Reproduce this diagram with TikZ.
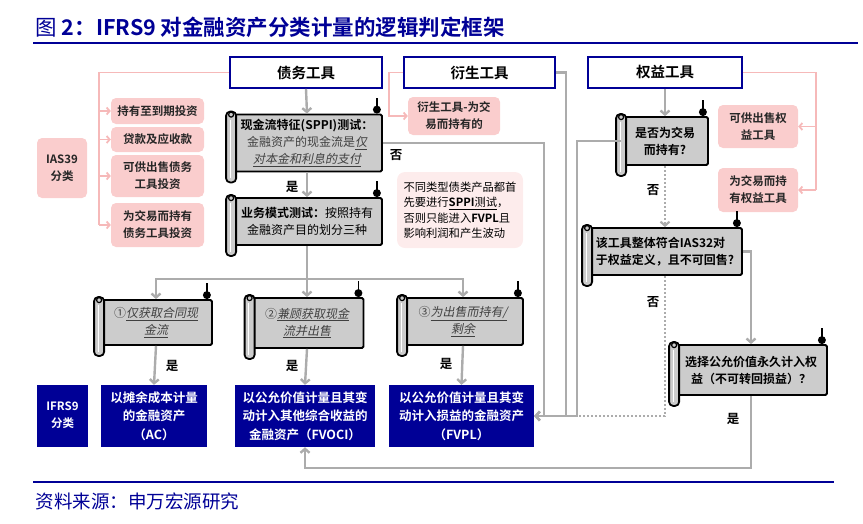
\documentclass[tikz,border=0pt]{standalone}
\usepackage{fontspec}
\setmainfont{Noto Sans CJK SC}[BoldFont={Noto Sans CJK SC Bold},AutoFakeSlant=0.2]
\usetikzlibrary{arrows.meta}

\definecolor{navy}{RGB}{0,0,150}
\definecolor{pinkfill}{RGB}{250,205,205}
\definecolor{pinkline}{RGB}{246,185,185}
\definecolor{notefill}{RGB}{253,236,236}
\definecolor{flowgray}{RGB}{172,172,172}
\definecolor{scrollgray}{RGB}{204,204,204}

\tikzset{
	topbox/.style={draw=navy, line width=1.8pt, fill=white, minimum height=31pt, font=\fontsize{14.5}{16}\selectfont\bfseries},
	pinkbox/.style={fill=pinkfill, rounded corners=5pt, align=center, text=black!85, font=\fontsize{11.5}{17}\selectfont\bfseries},
	resbox/.style={fill=navy, text=white, align=center, minimum height=62pt, font=\fontsize{12.5}{18.5}\selectfont\bfseries},
	scrollbox/.style={draw=black, line width=1.8pt, fill=scrollgray, rounded corners=1.5pt, align=center, inner sep=1pt, font=\fontsize{12}{17}\selectfont},
	flow/.style={draw=flowgray, line width=2.4pt, -{Straight Barb[length=4pt,width=9pt]}},
	dotflow/.style={draw=flowgray, line width=2.2pt, dash pattern=on 2pt off 2pt},
	pinkflow/.style={draw=pinkline, line width=1.8pt, -{Straight Barb[length=3pt,width=7pt]}},
	answer/.style={font=\fontsize{12.5}{13}\selectfont\bfseries}
}

% rolled left edge and knob of a scroll node
\newcommand{\scrollcurl}[1]{
	\draw[line width=1.8pt, fill=scrollgray, rounded corners=4pt] ([xshift=-5pt,yshift=2pt]#1.north west) rectangle ([xshift=5pt,yshift=-10pt]#1.south west);
	\draw[white, line width=1pt] ([xshift=-1pt,yshift=-6pt]#1.north west) -- ([xshift=-1pt,yshift=-6pt]#1.south west);
	\draw[line width=1.2pt, fill=scrollgray] ([yshift=-1pt]#1.north west) circle (2.5pt);
	\draw[line width=1.8pt] ([xshift=-6pt,yshift=4pt]#1.north east) -- ++(0,-12);
	\fill ([xshift=-6pt,yshift=4pt]#1.north east) circle (4pt);
}

\begin{document}
\begin{tikzpicture}[x=1pt, y=-1pt]
	\useasboundingbox (0,0) rectangle (863,523);
	
	%title and rules
	\node[anchor=west, text=navy, font=\fontsize{21.5}{23}\selectfont] (title) at (32,27) {图 \textbf{2：IFRS9 对金融资产分类计量的逻辑判定框架}};
	\draw[navy, line width=2pt] (33,43) -- (858,43);
	\draw[navy, line width=2pt] (33,482) -- (834,482);
	\node[anchor=west, text=navy, font=\fontsize{18.5}{19}\selectfont] (source) at (32,501) {资料来源：申万宏源研究};
	
	%instrument types
	\node[topbox, minimum width=152pt] (debt) at (306,72.5) {债务工具};
	\node[topbox, minimum width=151pt] (deriv) at (479.5,72.5) {衍生工具};
	\node[topbox, minimum width=154pt] (equity) at (665,72.5) {权益工具};
	
	%IAS39 classes
	\node[pinkbox, minimum width=50pt, minimum height=60pt] (ias39) at (62,168) {IAS39\\分类};
	\node[pinkbox, minimum width=93pt, minimum height=26pt] (htm) at (157.5,111) {持有至到期投资};
	\node[pinkbox, minimum width=93pt, minimum height=25pt] (loan) at (157.5,139.5) {贷款及应收款};
	\node[pinkbox, minimum width=93pt, minimum height=42pt] (afs) at (157.5,176) {可供出售债务\\工具投资};
	\node[pinkbox, minimum width=93pt, minimum height=44pt] (trad) at (157.5,225) {为交易而持有\\债务工具投资};
	\node[pinkbox, minimum width=92pt, minimum height=38pt] (derivtr) at (454,116) {衍生工具-为交\\易而持有的};
	\node[pinkbox, minimum width=80pt, minimum height=43pt] (afseq) at (758,126.5) {可供出售权\\益工具};
	\node[pinkbox, minimum width=80pt, minimum height=44pt] (treq) at (758,190) {为交易而持\\有权益工具};
	
	%note
	\node[fill=notefill, rounded corners=8pt, minimum width=126pt, minimum height=76pt, align=left, font=\fontsize{11.3}{15.5}\selectfont] (note) at (460,210) {不同类型债类产品都首\\先要进行\underline{\textbf{SPPI}测试}，\\否则只能进入\textbf{FVPL}且\\影响利润和产生波动};
	
	%tests
	\node[scrollbox, minimum width=150pt, minimum height=57pt] (sppi) at (307,143) {\textbf{现金流特征(SPPI)测试：}\\\textcolor{black!75}{金融资产的现金流是\underline{\textit{仅}}}\\\textcolor{black!75}{\underline{\textit{对本金和利息的支付}}}};
	\node[scrollbox, minimum width=150pt, minimum height=47pt] (biz) at (307,221.5) {\textbf{业务模式测试：}按照持有\\金融资产目的划分三种};
	\node[scrollbox, minimum width=112pt, minimum height=45pt, text=black!75] (opt1) at (156,322.5) {①\underline{\textit{仅获取合同现}}\\\underline{\textit{金流}}};
	\node[scrollbox, minimum width=113pt, minimum height=50pt, text=black!75] (opt2) at (307,323) {②\underline{\textit{兼顾获取现金}}\\\underline{\textit{流并出售}}};
	\node[scrollbox, minimum width=120pt, minimum height=47pt, text=black!75] (opt3) at (463,321.5) {③\underline{\textit{为出售而持有/}}\\\underline{\textit{剩余}}};
	\node[scrollbox, minimum width=86pt, minimum height=48pt, font=\fontsize{12}{17}\selectfont\bfseries] (trade) at (665,141) {是否为交易\\而持有?};
	\node[scrollbox, minimum width=154pt, minimum height=47pt, align=left, font=\fontsize{12}{17}\selectfont\bfseries] (ias32) at (665,251.5) {该工具整体符合IAS32对\\于权益定义，且不可回售?};
	\node[scrollbox, minimum width=152pt, minimum height=50pt, font=\fontsize{12}{17}\selectfont\bfseries] (fvchoice) at (751,370) {选择公允价值永久计入权\\益（不可转回损益）？};
	\foreach \s in {sppi, biz, opt1, opt2, opt3, trade, ias32, fvchoice}{
		\scrollcurl{\s}
	}
	
	%IFRS9 classes
	\node[resbox, minimum width=51pt, font=\fontsize{11.5}{17}\selectfont\bfseries] (ifrs) at (62.5,415.5) {IFRS9\\分类};
	\node[resbox, minimum width=106pt] (ac) at (154,416) {以摊余成本计量\\的金融资产\\（AC）};
	\node[resbox, minimum width=140pt] (fvoci) at (305,416) {以公允价值计量且其变\\动计入其他综合收益的\\金融资产（FVOCI）};
	\node[resbox, minimum width=145pt] (fvpl) at (461.5,416) {以公允价值计量且其变\\动计入损益的金融资产\\（FVPL）};
	
	%pink links
	\coordinate (pkl) at ([xshift=-130pt]debt.west);
	\draw[pinkline, line width=1.8pt] (debt.west) -- (pkl) -- (pkl |- trad.west);
	\foreach \n in {htm, loan, afs, trad}{
		\draw[pinkflow] (pkl |- \n.west) -- (\n.west);
	}
	\draw[pinkflow] (deriv.west) -- ++(-14,0) |- (derivtr.west);
	\coordinate (pkr) at ([xshift=73pt]equity.east);
	\draw[pinkline, line width=1.8pt] (equity.east) -- (pkr) -- (pkr |- treq.east);
	\foreach \n in {afseq, treq}{
		\draw[pinkflow] (pkr |- \n.east) -- (\n.east);
	}
	
	%debt flow
	\draw[flow] (debt.south) -- (sppi.north);
	\draw[flow] (sppi.south) -- (biz.north);
	\coordinate (fork) at ([yshift=-33pt]biz.south);
	\draw[flow] (biz.south) -- (opt2.north);
	\draw[flow] (fork) -| (opt1.north);
	\draw[flow] (fork) -| (opt3.north);
	\draw[flow] (opt1.south) -- (ac.north);
	\draw[flow] (opt2.south) -- (fvoci.north);
	\draw[flow] (opt3.south) -- (fvpl.north);
	
	%paths into FVPL
	\draw[flow] (sppi.east) -| ([xshift=10pt]fvpl.east) -- (fvpl.east);
	\draw[flow] (deriv.east) -| ([xshift=32pt]fvpl.east) -- (fvpl.east);
	\draw[flow] (trade.west) -| ([xshift=43pt]fvpl.east) -- (fvpl.east);
	
	%equity flow
	\draw[flow] (equity.south) -- (trade.north);
	\draw[dotflow, -{Straight Barb[length=4pt,width=9pt]}] (trade.south) -- (ias32.north);
	\draw[dotflow] (ias32.south) |- ([xshift=43pt]fvpl.east);
	\draw[flow] (ias32.east) -| (fvchoice.north);
	\draw[flow] (fvchoice.south) -- ++(0,72) -| (fvoci.south);
	
	%answers
	\node[answer] (y1) at (292,187) {是};
	\node[answer] (n1) at (396,155) {否};
	\node[answer] (y2) at (172,366) {是};
	\node[answer] (y3) at (292,366) {是};
	\node[answer] (y4) at (446,364) {是};
	\node[answer] (n2) at (653,190) {否};
	\node[answer] (n3) at (653,302) {否};
	\node[answer] (y5) at (733,419) {是};
\end{tikzpicture}
\end{document}
